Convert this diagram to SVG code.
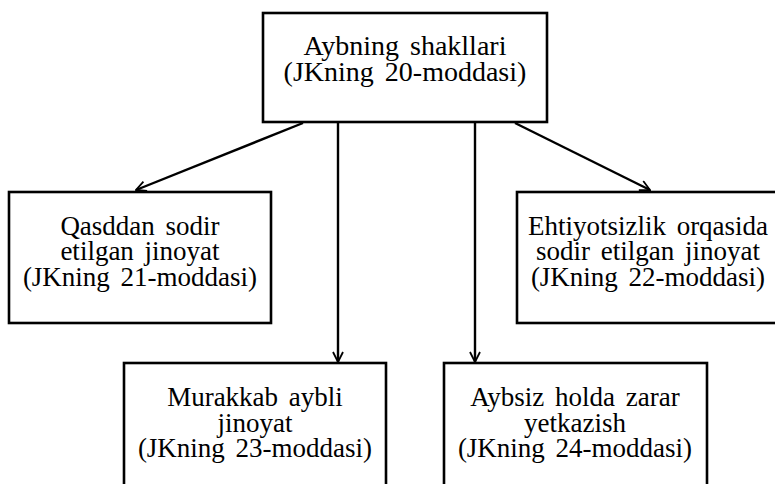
<svg xmlns="http://www.w3.org/2000/svg" width="775" height="484" viewBox="0 0 775 484">
<style>
.box{fill:#fff;stroke:#000;stroke-width:2.6}
.t{font-family:"Liberation Serif","Times New Roman",serif;font-size:27px;fill:#000;text-anchor:middle;word-spacing:4px}
.c{fill:none;stroke:#000;stroke-width:2.4}
</style>
<defs>
<marker id="ah" viewBox="0 0 12 12" refX="11" refY="6" markerWidth="12" markerHeight="12" markerUnits="userSpaceOnUse" orient="auto">
<path d="M1,1 L11,6 L1,11" fill="none" stroke="#000" stroke-width="1.8"/>
</marker>
</defs>
<rect width="775" height="484" fill="#fff"/>
<g id="connectors">
<line class="c" x1="303" y1="123" x2="136" y2="190" marker-end="url(#ah)"/>
<line class="c" x1="515" y1="123" x2="650" y2="190" marker-end="url(#ah)"/>
<line class="c" x1="338" y1="123" x2="338" y2="362" marker-end="url(#ah)"/>
<line class="c" x1="475" y1="123" x2="475" y2="362" marker-end="url(#ah)"/>
</g>
<g id="n_top">
<rect class="box" x="263" y="13" width="284" height="109"/>
<text class="t" x="405" y="55" style="font-size:28px">Aybning shakllari</text>
<text class="t" x="405" y="81" style="font-size:28px">(JKning 20-moddasi)</text>
</g>
<g id="n_qasd">
<rect class="box" x="9" y="192" width="262" height="131"/>
<text class="t" x="140" y="235">Qasddan sodir</text>
<text class="t" x="140" y="260">etilgan jinoyat</text>
<text class="t" x="140" y="286">(JKning 21-moddasi)</text>
</g>
<g id="n_ehtiyot">
<rect class="box" x="517" y="192" width="262" height="131"/>
<text class="t" x="648" y="235">Ehtiyotsizlik orqasida</text>
<text class="t" x="648" y="260">sodir etilgan jinoyat</text>
<text class="t" x="648" y="286">(JKning 22-moddasi)</text>
</g>
<g id="n_murakkab">
<rect class="box" x="124" y="363" width="262" height="140"/>
<text class="t" x="255" y="406">Murakkab aybli</text>
<text class="t" x="255" y="432">jinoyat</text>
<text class="t" x="255" y="457">(JKning 23-moddasi)</text>
</g>
<g id="n_aybsiz">
<rect class="box" x="444" y="363" width="263" height="140"/>
<text class="t" x="575" y="406">Aybsiz holda zarar</text>
<text class="t" x="575" y="432">yetkazish</text>
<text class="t" x="575" y="457">(JKning 24-moddasi)</text>
</g>
</svg>
